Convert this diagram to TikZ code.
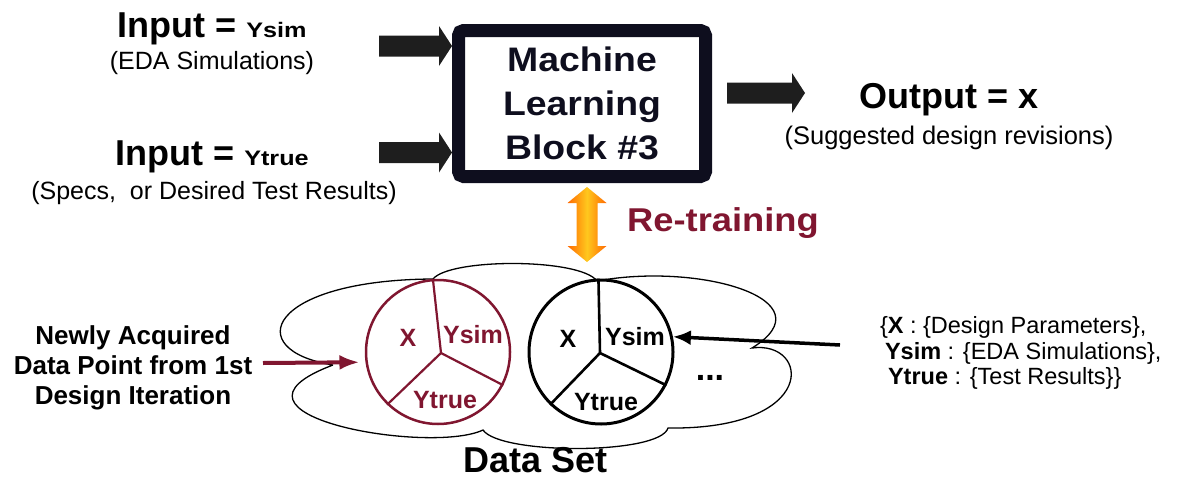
\documentclass[tikz,border=0pt]{standalone}
\usepackage{fontspec}
\setmainfont{Liberation Sans}
\newfontfamily\wideA{Liberation Sans}[FakeStretch=1.1]
\newfontfamily\wideB{Liberation Sans}[FakeStretch=1.2]
\usetikzlibrary{arrows.meta,calc}
\definecolor{maroon}{RGB}{128,22,48}
\definecolor{navy}{RGB}{14,14,30}
\definecolor{ink}{RGB}{30,30,30}
\definecolor{orA}{RGB}{255,105,0}
\definecolor{orB}{RGB}{255,200,30}
\newcommand{\blkarrow}[2]{%
  \fill[ink] ($(#1)+(0,-10.5)$) -- ($(#2)+(-13,-10.5)$) -- ($(#2)+(-13,-20)$) -- (#2)
    -- ($(#2)+(-13,20)$) -- ($(#2)+(-13,10.5)$) -- ($(#1)+(0,10.5)$) -- cycle;}
\begin{document}
\begin{tikzpicture}[x=1pt,y=-1pt,
  lbl/.style={inner sep=0pt,outer sep=0pt,align=center},
  pie/.style={circle,fill=white,minimum size=144pt,inner sep=0pt},
  cell/.style={inner sep=0pt,font=\bfseries\fontsize{25}{28}\selectfont}]
\useasboundingbox (0,0) rectangle (1199,479);

% ---------- ML block ----------
\node[draw=navy, line width=13pt, rounded corners=5pt, minimum width=247pt,
      minimum height=146pt, inner sep=0pt, text=navy, align=center,
      font=\wideA\bfseries\fontsize{34}{44}\selectfont] (box) at (582,103.5)
      {Machine\\Learning\\Block \#3};

% ---------- inputs ----------
\node[lbl, anchor=base, font=\bfseries] (inA) at (212,37)
  {\fontsize{36}{40}\selectfont Input = {\wideB\fontsize{21}{24}\selectfont Ysim}};
\node[lbl, font=\fontsize{25}{28}\selectfont] (inAd) at (212,63) {(EDA Simulations)};
\node[lbl, anchor=base, font=\bfseries] (inB) at (212,165)
  {\fontsize{36}{40}\selectfont Input = {\wideB\fontsize{21}{24}\selectfont Ytrue}};
\node[lbl, font=\fontsize{25}{28}\selectfont] (inBd) at (214,193) {(Specs,\ \ or Desired Test Results)};

\coordinate (a1s) at (379,46);
\coordinate (a1e) at (box.west |- a1s);
\coordinate (a2s) at (379,152.5);
\coordinate (a2e) at (box.west |- a2s);
\blkarrow{a1s}{a1e}
\blkarrow{a2s}{a2e}

% ---------- output ----------
\coordinate (o1s) at (727,93);
\coordinate (o1e) at (805,93);
\blkarrow{o1s}{o1e}
\node[lbl, anchor=base, font=\bfseries\fontsize{36}{40}\selectfont] (out) at (949,108) {Output = x};
\node[lbl, font=\fontsize{25.5}{28}\selectfont] (outd) at (949,138) {(Suggested design revisions)};

% ---------- re-training ----------
\coordinate (ot) at (587,187);
\coordinate (ob) at (587,262);
\shade[left color=orA, right color=orA, middle color=orB]
  (ot) -- ($(ot)+(19.5,16)$) -- ($(ot)+(10.5,16)$) -- ($(ob)+(10.5,-16)$)
  -- ($(ob)+(19.5,-16)$) -- (ob) -- ($(ob)+(-19.5,-16)$) -- ($(ob)+(-10.5,-16)$)
  -- ($(ot)+(-10.5,16)$) -- ($(ot)+(-19.5,16)$) -- cycle;
\node[lbl, text=maroon, font=\wideA\bfseries\fontsize{33}{38}\selectfont] (rt) at (723,223) {Re-training};

% ---------- data set cloud ----------
\draw[line width=1.3pt]
  (333,365) .. controls (240,350) and (268,280) .. (433,279)
  .. controls (450,258) and (580,258) .. (597,281)
  .. controls (700,262) and (830,300) .. (752,348)
  .. controls (810,340) and (820,430) .. (668,428)
  .. controls (660,455) and (500,455) .. (483,430)
  .. controls (430,455) and (200,415) .. (333,365);

% red data point
\node[pie, draw=maroon, line width=2.5pt] (rc) at (438,352) {};
\coordinate (rm) at ($(rc.center)+(3,1)$);
\draw[maroon, line width=2.2pt] (rc.94) -- (rm) -- (rc.-27) (rm) -- (rc.226);
\node[cell, text=maroon] (rx) at ($(rc.center)+(-30,-14)$) {X};
\node[cell, text=maroon] (ry) at ($(rc.center)+(35,-17)$) {Ysim};
\node[cell, text=maroon] (rtr) at ($(rc.center)+(7,48)$) {Ytrue};

% black data point
\node[pie, draw=black, line width=3pt] (bc) at (601,352) {};
\coordinate (bm) at ($(bc.center)+(-1,1)$);
\draw[line width=2.6pt] (bc.92) -- (bm) -- (bc.-27) (bm) -- (bc.226);
\node[cell] (bx) at ($(bc.center)+(-33,-13)$) {X};
\node[cell] (by) at ($(bc.center)+(34,-15)$) {Ysim};
\node[cell] (btr) at ($(bc.center)+(5,50)$) {Ytrue};

\node[lbl, font=\bfseries\fontsize{34}{38}\selectfont] (dots) at (710,378) {...};

\node[lbl, anchor=base, font=\bfseries\fontsize{36}{40}\selectfont] (ds) at (536,472) {Data Set};

% ---------- left annotation ----------
\node[lbl, font=\bfseries\fontsize{26}{30}\selectfont] (newly) at (133,368)
  {Newly Acquired\\Data Point from 1st\\Design Iteration};
\coordinate (nt) at (263,363);
\draw[maroon, line width=4pt, -{Latex[length=20pt,width=15pt]}, shorten >=6pt] (nt) -- (rc.188);

% ---------- right annotation ----------
\node[lbl, align=left, anchor=west, font=\fontsize{23.5}{25.5}\selectfont] (legend) at (880,353)
  {\{\textbf{X} : \{Design Parameters\},\\
   \hspace*{5pt}\textbf{Ysim} : \{EDA Simulations\},\\
   \hspace*{8pt}\textbf{Ytrue} : \{Test Results\}\}};
\coordinate (bt) at (840,345);
\draw[line width=3.5pt, -{Latex[length=18pt,width=15pt]}] (bt) -- (bc.12);
\end{tikzpicture}
\end{document}
